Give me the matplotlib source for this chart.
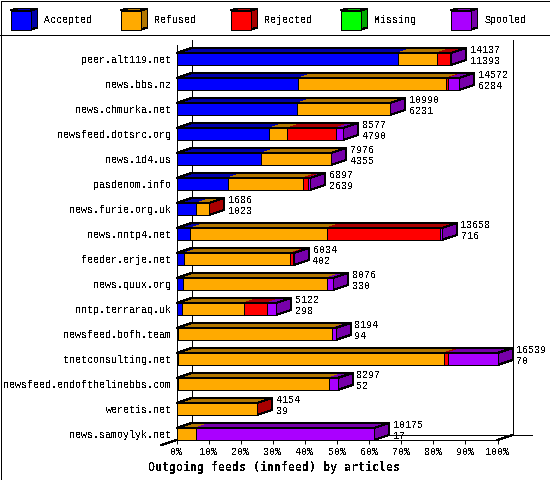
import matplotlib
matplotlib.use('Agg')
import matplotlib.pyplot as plt
from matplotlib.patches import Polygon, Rectangle

plt.rcParams['font.family'] = ['Liberation Mono', 'DejaVu Sans Mono']
plt.rcParams['text.antialiased'] = False
plt.rcParams['patch.antialiased'] = False
plt.rcParams['lines.antialiased'] = False

hosts = ['peer.alt119.net', 'news.bbs.nz', 'news.chmurka.net', 'newsfeed.dotsrc.org',
         'news.1d4.us', 'pasdenom.info', 'news.furie.org.uk', 'news.nntp4.net',
         'feeder.erje.net', 'news.quux.org', 'nntp.terraraq.uk', 'newsfeed.bofh.team',
         'tnetconsulting.net', 'newsfeed.endofthelinebbs.com', 'weretis.net', 'news.samoylyk.net']

# articles per feed
accepted = [11393, 6284, 6231, 4790, 4355, 2639, 1023, 716, 402, 330, 298, 94, 70, 52, 39, 17]
refused = [2009, 7615, 4744, 927, 3606, 3870, 653, 7027, 5456, 7414, 3169, 7929, 13699, 7795, 4105, 979]
rejected = [705, 108, 0, 2490, 0, 258, 10, 5843, 155, 0, 1185, 0, 206, 0, 10, 0]
missing = [0] * 16
spooled = [30, 565, 15, 370, 15, 130, 0, 72, 21, 332, 470, 171, 2564, 450, 0, 9179]
totals = [14137, 14572, 10990, 8577, 7976, 6897, 1686, 13658, 6034, 8076, 5122, 8194, 16539, 8297, 4154, 10175]

names = ['Accepted', 'Refused', 'Rejected', 'Missing', 'Spooled']
series = [accepted, refused, rejected, missing, spooled]
colors = ['#0000ff', '#ffaa00', '#ff0000', '#00ff00', '#aa00ff']
darks = ['#0000aa', '#b27700', '#aa0000', '#00aa00', '#7700aa']

W, H = 550, 480
LINE = 0.72  # 1 px
fig = plt.figure(figsize=(W / 100, H / 100), dpi=100, facecolor='white')

# header and frame, in pixels
bg = fig.add_axes([0, 0, 1, 1])
bg.set_xlim(0, W)
bg.set_ylim(H, 0)
bg.axis('off')
bg.add_patch(Rectangle((0.5, 0.5), W - 1, H - 1, fc='white', ec='black', lw=LINE))
bg.plot([0, W], [34.5, 34.5], color='black', lw=LINE)

legend_x = [10.5, 120.5, 230.5, 340.5, 450.5]
for name, col, dark, lx in zip(names, colors, darks, legend_x):
    bg.add_patch(Polygon([(lx, 10.5), (lx + 7, 8.5), (lx + 27, 8.5), (lx + 20, 10.5)], fc=dark, ec='black', lw=LINE))
    bg.add_patch(Polygon([(lx + 20, 10.5), (lx + 27, 8.5), (lx + 27, 27.5), (lx + 20, 29.5)], fc=dark, ec='black', lw=LINE))
    bg.add_patch(Rectangle((lx, 10.5), 20, 19, fc=col, ec='black', lw=LINE))
    bg.text(lx + 34, 20, name, fontsize=7.2, va='center', ha='left')

# main plot: front plane 177-498 px wide, 45-440 px high
ax = fig.add_axes([176.5 / W, 1 - 440 / H, 321 / W, 395 / H])
ax.patch.set_alpha(0)
max_total = max(totals)
ax.set_xlim(0, 100)
ax.set_ylim(15.24, -0.56)

dx = 15 / 3.21
dy = 5 / 25
half = 0.24

# back wall and floor
y_low, y_high = 15.24 - dy, -0.56 - dy
ax.plot([dx, dx], [y_low, y_high], color='black', lw=LINE, clip_on=False, zorder=1)
ax.plot([100 + dx, 100 + dx], [y_low, y_high], color='black', lw=LINE, clip_on=False, zorder=1)
ax.plot([dx, 110.6], [y_low, y_low], color='black', lw=LINE, clip_on=False, zorder=1)
ax.plot([100, 100 + dx], [15.24, y_low], color='black', lw=LINE, clip_on=False, zorder=1)
ax.plot([-dx, 0], [15.24 + dy, 15.24], color='black', lw=LINE, clip_on=False, zorder=1)

for i in range(len(hosts)):
    z = 2 + i
    top, bottom = i - half, i + half
    left = 0
    last = 0
    for s, values in enumerate(series):
        v = values[i]
        if v == 0:
            continue
        w = v / max_total * 100
        ax.add_patch(Polygon([(left, top), (left + dx, top - dy), (left + w + dx, top - dy), (left + w, top)],
                             fc=darks[s], ec='none', clip_on=False, zorder=z))
        ax.add_patch(Rectangle((left, top), w, bottom - top, fc=colors[s], ec='black', lw=LINE,
                               clip_on=False, zorder=z + 0.2))
        left += w
        last = s
    ax.add_patch(Polygon([(0, top), (dx, top - dy), (left + dx, top - dy), (left, top)],
                         fc='none', ec='black', lw=LINE, clip_on=False, zorder=z + 0.1))
    ax.add_patch(Polygon([(left, top), (left + dx, top - dy), (left + dx, bottom - dy), (left, bottom)],
                         fc=darks[last], ec='black', lw=LINE, clip_on=False, zorder=z + 0.1))
    ax.annotate(str(totals[i]), (left + dx, i), xytext=(3, 6.5), textcoords='offset points',
                fontsize=7.2, va='center', ha='left', annotation_clip=False, zorder=30)
    ax.annotate(str(accepted[i]), (left + dx, i), xytext=(3, -1.5), textcoords='offset points',
                fontsize=7.2, va='center', ha='left', annotation_clip=False, zorder=30)

for side in ['top', 'right']:
    ax.spines[side].set_visible(False)
for side in ['left', 'bottom']:
    ax.spines[side].set_linewidth(LINE)

ax.set_yticks(range(len(hosts)))
ax.set_yticklabels(hosts, fontsize=7.2)
ax.tick_params(axis='y', length=0, pad=3.6)
ax.set_xticks(range(0, 101, 10))
ax.set_xticklabels(['%d%%' % p for p in range(0, 101, 10)], fontsize=7.2)
ax.tick_params(axis='x', length=3, width=LINE, pad=2)
ax.set_xlabel('Outgoing feeds (innfeed) by articles', fontsize=8.4, fontweight='bold', va='center',
              family=['DejaVu Sans Mono'])
ax.xaxis.set_label_coords((274.5 - 176.5) / 321, -27 / 395)

fig.savefig('out.png', dpi=100)
